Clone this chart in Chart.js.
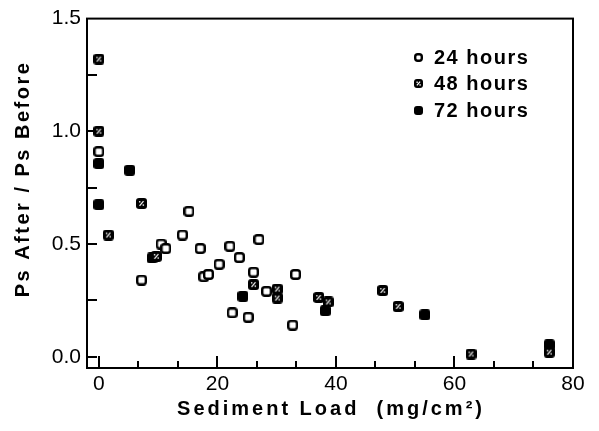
<!DOCTYPE html>
<html><head><meta charset="utf-8">
<script src="https://cdn.jsdelivr.net/npm/chart.js@4"></script>
<style>html,body{margin:0;padding:0;background:#fff;}#wrap{width:599px;height:431px;}</style>
</head><body><div id="wrap"><canvas id="c" width="599" height="431"></canvas></div>
<script>
// ---- data ----
const seriesLabels = ['24 hours', '48 hours', '72 hours'];
const x24 = [0, 7.2, 10.5, 11.3, 14.1, 15.2, 17.1, 17.7, 18.5, 20.3, 22.1, 22.5, 23.7, 25.2, 26.1, 27.0, 28.3, 32.7, 33.2];
const y24 = [0.91, 0.34, 0.50, 0.48, 0.54, 0.645, 0.48, 0.355, 0.365, 0.41, 0.49, 0.195, 0.44, 0.175, 0.375, 0.52, 0.29, 0.14, 0.365];
const x48 = [0, 0, 1.6, 7.2, 9.7, 26.1, 30.1, 30.1, 37.1, 38.7, 47.9, 50.5, 62.8, 76.0];
const y48 = [1.32, 1.0, 0.54, 0.68, 0.445, 0.32, 0.30, 0.26, 0.263, 0.243, 0.294, 0.223, 0.012, 0.02];
const x72 = [0, 0, 5.2, 9.0, 24.3, 38.2, 55.0, 76.0];
const y72 = [0.857, 0.675, 0.827, 0.438, 0.268, 0.204, 0.186, 0.053];
const xTickValues = [0, 20, 40, 60, 80];
const yTickValues = [0, 0.5, 1.0, 1.5];
const xTitle = 'Sediment Load  (mg/cm²)';
const yTitle = 'Ps After / Ps Before';

const FONT = '"Liberation Sans", Arial, Helvetica, sans-serif';

function rr(g, x, y, w, h, r) {
  g.beginPath();
  g.moveTo(x + r, y); g.lineTo(x + w - r, y); g.quadraticCurveTo(x + w, y, x + w, y + r);
  g.lineTo(x + w, y + h - r); g.quadraticCurveTo(x + w, y + h, x + w - r, y + h);
  g.lineTo(x + r, y + h); g.quadraticCurveTo(x, y + h, x, y + h - r);
  g.lineTo(x, y + r); g.quadraticCurveTo(x, y, x + r, y); g.closePath();
}
function makeMarker(kind, size) {
  const c = document.createElement('canvas');
  c.width = size; c.height = size;
  const g = c.getContext('2d');
  if (kind === 'open') {
    rr(g, 1.2, 1.2, size - 2.4, size - 2.4, 2.5);
    g.fillStyle = '#fff'; g.fill();
    g.lineWidth = 2.4; g.strokeStyle = '#000'; g.stroke();
  } else {
    rr(g, 0, 0, size, size, 3);
    g.fillStyle = '#000'; g.fill();
    if (kind === 'hatch') {
      g.strokeStyle = '#fff'; g.lineWidth = 1.2;
      g.beginPath(); g.moveTo(size * 0.32, size * 0.72); g.lineTo(size * 0.68, size * 0.28); g.stroke();
      g.fillStyle = '#fff';
      g.fillRect(size * 0.27, size * 0.28, 1.4, 1.4);
      g.fillRect(size * 0.6, size * 0.58, 1.4, 1.4);
    }
  }
  return c;
}
const kinds = ['open', 'hatch', 'filled'];
const markers = kinds.map(k => makeMarker(k, 11));
const legendMarkers = kinds.map(k => makeMarker(k, 9));

const pts = (xs, ys) => xs.map((x, i) => ({ x: x, y: ys[i] }));

const framePlugin = {
  id: 'frame',
  beforeDatasetsDraw(chart) {
    const { ctx, chartArea: a, scales } = chart;
    ctx.save();
    ctx.strokeStyle = '#000'; ctx.lineWidth = 2;
    ctx.strokeRect(a.left, a.top, a.right - a.left, a.bottom - a.top);
    ctx.beginPath();
    for (let i = 0; i < 12; i++) {
      const v = i * 20 / 3;
      const px = Math.round(scales.x.getPixelForValue(v));
      const len = (i % 3 === 0) ? 12 : 7;
      ctx.moveTo(px, a.bottom); ctx.lineTo(px, a.bottom - len);
    }
    for (let i = 0; i < 6; i++) {
      const py = Math.round(scales.y.getPixelForValue(i * 0.25));
      ctx.moveTo(a.left, py); ctx.lineTo(a.left + 10, py);
    }
    ctx.stroke();
    ctx.restore();
  },
  afterDraw(chart) {
    const { ctx, chartArea: a } = chart;
    ctx.save();
    ctx.fillStyle = '#000';
    ctx.font = 'bold 20px ' + FONT;
    ctx.textBaseline = 'middle';
    // x title
    ctx.letterSpacing = '3px';
    ctx.textAlign = 'center';
    ctx.fillText(xTitle, (a.left + a.right) / 2 + 1, 409);
    // y title
    ctx.letterSpacing = '2.5px';
    ctx.save();
    ctx.translate(23, 179);
    ctx.rotate(-Math.PI / 2);
    ctx.fillText(yTitle, 0, 0);
    ctx.restore();
    // legend
    ctx.letterSpacing = '1.5px';
    ctx.textAlign = 'left';
    const rows = [57, 83, 110];
    chart.data.datasets.forEach((ds, i) => {
      const m = legendMarkers[i];
      ctx.drawImage(m, Math.round(418 - m.width / 2), Math.round(rows[i] - m.height / 2));
      ctx.fillText(ds.label, 434, rows[i] + 1);
    });
    ctx.restore();
  }
};

new Chart(document.getElementById('c'), {
  type: 'scatter',
  data: {
    datasets: [
      { label: seriesLabels[0], data: pts(x24, y24), pointStyle: markers[0], pointRadius: 5, clip: false },
      { label: seriesLabels[1], data: pts(x48, y48), pointStyle: markers[1], pointRadius: 5, clip: false },
      { label: seriesLabels[2], data: pts(x72, y72), pointStyle: markers[2], pointRadius: 5, clip: false }
    ]
  },
  options: {
    responsive: false,
    animation: false,
    devicePixelRatio: 1,
    layout: { padding: { top: 18, right: 26, left: 0, bottom: 0 } },
    plugins: { legend: { display: false }, tooltip: { enabled: false } },
    scales: {
      x: {
        type: 'linear', min: -2, max: 80,
        afterBuildTicks: s => { s.ticks = xTickValues.map(v => ({ value: v })); },
        afterFit: s => { s.height = 63; },
        grid: { display: false, drawTicks: false },
        border: { display: false },
        ticks: { color: '#000', padding: 4, maxRotation: 0, autoSkip: false,
                 font: { family: FONT, size: 21 }, callback: v => String(v) }
      },
      y: {
        type: 'linear', min: -0.05, max: 1.5,
        afterBuildTicks: s => { s.ticks = yTickValues.map(v => ({ value: v })); },
        afterFit: s => { s.width = 87; },
        grid: { display: false, drawTicks: false },
        border: { display: false },
        ticks: { color: '#000', padding: 6, autoSkip: false,
                 font: { family: FONT, size: 21 }, callback: v => Number(v).toFixed(1) }
      }
    }
  },
  plugins: [framePlugin]
});
</script>
</body></html>
